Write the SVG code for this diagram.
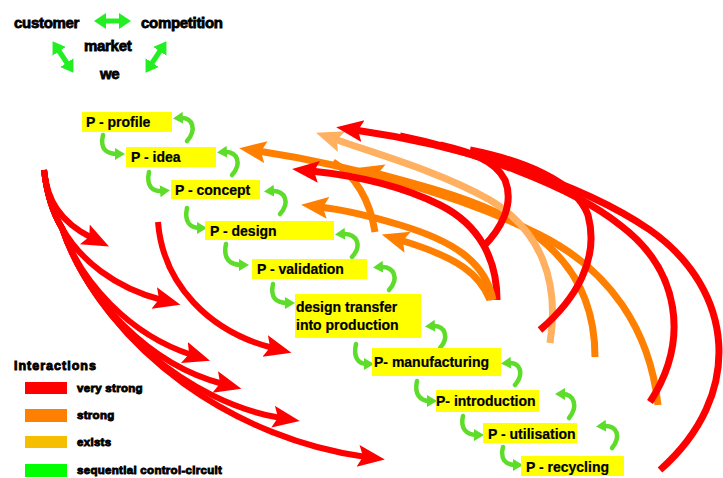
<svg xmlns="http://www.w3.org/2000/svg" width="723" height="478" viewBox="0 0 723 478">
<style>
.lbl{font-family:"Liberation Sans",Arial,sans-serif;font-weight:bold;font-size:14px;fill:#000;stroke:#000;stroke-width:0.2}
.top{font-family:"Liberation Sans",Arial,sans-serif;font-weight:bold;font-size:15px;fill:#000;stroke:#000;stroke-width:0.8;letter-spacing:-0.3px}
.leg{font-family:"Liberation Sans",Arial,sans-serif;font-weight:bold;font-size:11.5px;fill:#000;stroke:#000;stroke-width:0.9;letter-spacing:0.3px}
.box{fill:#FFFF00}
.r{fill:none;stroke:#FF0000;stroke-width:7}
.rl{fill:none;stroke:#FF0000;stroke-width:6}
.o{fill:none;stroke:#FF8000;stroke-width:7}
.lo{fill:none;stroke:#FFB060;stroke-width:7}
.g{fill:none;stroke:#5EDC2A;stroke-width:4.5;stroke-linecap:round}
.tg{fill:none;stroke:#22EE22;stroke-width:5}
</style>
<defs>
<marker id="hr" markerUnits="userSpaceOnUse" markerWidth="28" markerHeight="24" refX="8" refY="11" orient="auto"><path d="M0,0 L27,11 L0,22 L5,11 z" fill="#FF0000"/></marker>
<marker id="ho" markerUnits="userSpaceOnUse" markerWidth="28" markerHeight="24" refX="8" refY="11" orient="auto"><path d="M0,0 L27,11 L0,22 L5,11 z" fill="#FF8000"/></marker>
<marker id="hl" markerUnits="userSpaceOnUse" markerWidth="28" markerHeight="24" refX="8" refY="11" orient="auto"><path d="M0,0 L27,11 L0,22 L5,11 z" fill="#FFB060"/></marker>
<marker id="hg" markerUnits="userSpaceOnUse" markerWidth="12" markerHeight="12" refX="3" refY="6" orient="auto"><path d="M0,0 L10,6 L0,12 z" fill="#5EDC2A"/></marker>
<marker id="ht" markerUnits="userSpaceOnUse" markerWidth="14" markerHeight="16" refX="4" refY="8" orient="auto-start-reverse"><path d="M0,0 L12,8 L0,16 z" fill="#22EE22"/></marker>
</defs>

<g id="market-triangle">
<text class="top" x="14" y="28">customer</text>
<text class="top" x="141" y="28">competition</text>
<text class="top" x="84" y="51">market</text>
<text class="top" x="100" y="79">we</text>
<line class="tg" x1="102" y1="21" x2="123" y2="21" marker-start="url(#ht)" marker-end="url(#ht)"/>
<line class="tg" x1="57" y1="48" x2="69" y2="66" marker-start="url(#ht)" marker-end="url(#ht)"/>
<line class="tg" x1="162" y1="48" x2="150" y2="66" marker-start="url(#ht)" marker-end="url(#ht)"/>
</g>

<g id="connectors">
<!-- left red bundle -->
<path class="rl" d="M44,170 C47,200 60,222 92,238" marker-end="url(#hr)"/>
<path class="rl" d="M44,170 Q48,205 62,228 C80,260 115,288 162,300" marker-end="url(#hr)"/>
<path class="rl" d="M44,170 Q48,205 62,228 C80,282 130,335 192,355" marker-end="url(#hr)"/>
<path class="rl" d="M44,170 Q48,205 62,228 C86,300 150,365 223,384" marker-end="url(#hr)"/>
<path class="rl" d="M44,170 Q48,205 62,228 C95,325 190,403 281,418" marker-end="url(#hr)"/>
<path class="rl" d="M44,170 Q48,205 62,228 C108,355 240,440 366,457" marker-end="url(#hr)"/>
<path class="rl" d="M158,222 C163,285 210,332 273,348" marker-end="url(#hr)"/>
<!-- right side arcs -->
<path class="o" d="M658,405 C650,330 610,270 540,235 C460,195 350,165 258,151" marker-end="url(#ho)"/>
<path class="o" d="M333,162 C355,175 370,200 375,232"/>
<path class="o" d="M595,357 C595,300 570,255 520,225 C480,200 420,185 375,173" marker-end="url(#ho)"/>
<path class="lo" d="M550,343 C560,280 540,230 490,200 C440,172 380,155 334,139" marker-end="url(#hl)"/>
<path class="r" d="M660,470 C745,395 735,290 650,230 C580,182 460,145 355,130" marker-end="url(#hr)"/>
<path class="r" d="M650,402 C690,340 680,270 620,225 C570,185 470,150 400,136"/>
<path class="r" d="M540,330 C575,300 600,260 588,215 C575,180 520,160 470,150"/>
<path class="r" d="M497,300 C497,260 480,225 440,205 C400,185 350,175 311,171" marker-end="url(#hr)"/>
<path class="r" d="M483,247 C500,230 515,205 505,180 C495,160 470,152 440,145"/>
<path class="o" stroke-width="9" d="M493,300 C485,260 450,240 400,225 C370,216 345,210 320,207" marker-end="url(#ho)"/>
<path class="o" d="M490,300 C480,275 460,258 400,240" marker-end="url(#ho)"/>
<!-- green sequential down arrows -->
<path class="g" d="M103,135 C100,148 105,154 118,154" marker-end="url(#hg)"/>
<path class="g" d="M149,172 C146,186 152,192 163,191" marker-end="url(#hg)"/>
<path class="g" d="M187,208 C184,222 190,228 200,228" marker-end="url(#hg)"/>
<path class="g" d="M226,244 C223,258 229,265 242,265" marker-end="url(#hg)"/>
<path class="g" d="M273,284 C270,298 276,303 288,303" marker-end="url(#hg)"/>
<path class="g" d="M356,344 C353,357 358,364 367,364" marker-end="url(#hg)"/>
<path class="g" d="M417,381 C414,394 420,401 430,401" marker-end="url(#hg)"/>
<path class="g" d="M463,416 C460,428 466,435 477,435" marker-end="url(#hg)"/>
<path class="g" d="M503,447 C500,459 505,465 516,465" marker-end="url(#hg)"/>
<!-- green feedback up arrows -->
<path class="g" d="M187,141 C197,130 193,117 180,118" marker-end="url(#hg)"/>
<path class="g" d="M232,175 C242,164 238,151 224,152" marker-end="url(#hg)"/>
<path class="g" d="M280,214 C290,203 286,190 271,191" marker-end="url(#hg)"/>
<path class="g" d="M352,257 C362,246 358,233 342,234" marker-end="url(#hg)"/>
<path class="g" d="M389,290 C399,279 395,266 380,267" marker-end="url(#hg)"/>
<path class="g" d="M440,348 C449,338 446,325 432,326" marker-end="url(#hg)"/>
<path class="g" d="M515,385 C524,374 521,362 508,363" marker-end="url(#hg)"/>
<path class="g" d="M569,418 C578,407 575,394 562,394" marker-end="url(#hg)"/>
<path class="g" d="M612,448 C621,437 618,425 603,426" marker-end="url(#hg)"/>
</g>

<g id="p-profile"><rect class="box" x="82" y="112" width="90" height="20"/><text class="lbl" x="86" y="127">P - profile</text></g>
<g id="p-idea"><rect class="box" x="126" y="147" width="90" height="20"/><text class="lbl" x="131" y="162">P - idea</text></g>
<g id="p-concept"><rect class="box" x="171" y="180" width="89" height="19"/><text class="lbl" x="175" y="195">P - concept</text></g>
<g id="p-design"><rect class="box" x="205" y="221" width="129" height="19"/><text class="lbl" x="210" y="236">P - design</text></g>
<g id="p-validation"><rect class="box" x="252" y="259" width="115" height="20"/><text class="lbl" x="257" y="274">P - validation</text></g>
<g id="design-transfer"><rect class="box" x="295" y="294" width="126" height="44"/><text class="lbl" x="296" y="312">design transfer</text><text class="lbl" x="296" y="330">into production</text></g>
<g id="p-manufacturing"><rect class="box" x="372" y="348" width="129" height="28"/><text class="lbl" x="374" y="367">P- manufacturing</text></g>
<g id="p-introduction"><rect class="box" x="436" y="390" width="103" height="22"/><text class="lbl" x="436" y="406">P- introduction</text></g>
<g id="p-utilisation"><rect class="box" x="483" y="423" width="94" height="20"/><text class="lbl" x="488" y="439">P - utilisation</text></g>
<g id="p-recycling"><rect class="box" x="521" y="456" width="103" height="20"/><text class="lbl" x="526" y="472">P - recycling</text></g>

<g id="legend">
<text class="leg" x="14" y="370" style="font-size:12.5px;letter-spacing:1px">Interactions</text>
<rect x="25" y="382" width="42" height="12" fill="#FF0000"/><text class="leg" x="77" y="392">very strong</text>
<rect x="25" y="409" width="42" height="13" fill="#FF8000"/><text class="leg" x="77" y="419">strong</text>
<rect x="25" y="436" width="42" height="12" fill="#F5BE00"/><text class="leg" x="77" y="446">exists</text>
<rect x="25" y="464" width="42" height="13" fill="#00FF00"/><text class="leg" x="77" y="474">sequential control-circuit</text>
</g>
</svg>
